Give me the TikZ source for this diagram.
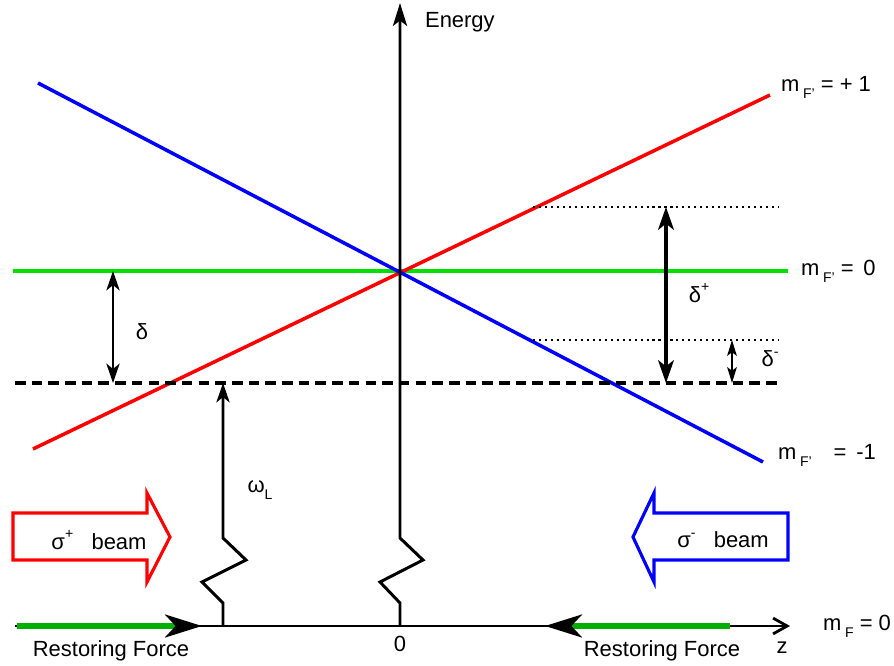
\documentclass[tikz,border=0pt]{standalone}
\usepackage{fontspec}
\setmainfont{Liberation Sans}
\usetikzlibrary{positioning, arrows.meta, calc}
\definecolor{lvlgreen}{RGB}{0,225,0}
\definecolor{forcegreen}{RGB}{0,175,0}
\newcommand{\lowtxt}[1]{\raisebox{-0.6ex}{\fontsize{8}{8}\selectfont #1}}
\newcommand{\hightxt}[1]{\raisebox{0.9ex}{\fontsize{8}{8}\selectfont #1}}

\begin{document}
\begin{tikzpicture}[
    x=0.02cm, y=-0.02cm,
    every node/.style={inner sep=1pt, font=\fontsize{12.5}{15}\selectfont},
    lvlline/.style={line width=2pt},
    axisline/.style={line width=1.7pt, line join=miter},
    bigtip/.style={line width=1.8pt, {Stealth[length=13pt,width=9pt,inset=3.5pt]}-{Stealth[length=13pt,width=9pt,inset=3.5pt]}},
    midtip/.style={line width=1.5pt, {Stealth[length=11pt,width=7.5pt,inset=3pt]}-{Stealth[length=11pt,width=7.5pt,inset=3pt]}},
    smalltip/.style={line width=1.1pt, {Stealth[length=9pt,width=5.5pt,inset=2pt]}-{Stealth[length=9pt,width=5.5pt,inset=2pt]}},
    forcetip/.style={forcegreen, line width=3pt, -{Stealth[length=21pt,width=13pt,inset=6pt,color=black]}},
    beam/.style={line width=1.8pt, line join=miter}
]
    \useasboundingbox (0,0) rectangle (894,666);

    % Coordinates
    \coordinate (rs) at (33,449);
    \coordinate (re) at (770,95);
    \coordinate (bs) at (38,83);
    \coordinate (be) at (763,462);
    \coordinate (gs) at (13,271);
    \coordinate (ge) at (788,271);
    \coordinate (ds) at (15,383);
    \coordinate (de) at (780,383);
    \coordinate (ups) at (533,207);
    \coordinate (upe) at (778,207);
    \coordinate (los) at (533,340);
    \coordinate (loe) at (778,340);
    \coordinate (eb) at (400,626);
    \coordinate (et) at (400,3);
    \coordinate (wb) at (223,626);
    \coordinate (wt) at (223,383);
    \coordinate (zl) at (15,626);
    \coordinate (zr) at (790,626);
    \coordinate (fls) at (17,626);
    \coordinate (fle) at (202,626);
    \coordinate (frs) at (730,626);
    \coordinate (fre) at (545,626);
    \coordinate (dpt) at (666,207);
    \coordinate (dpb) at (666,383);
    \coordinate (dmt) at (732,340);
    \coordinate (dmb) at (732,383);
    \coordinate (dt) at (113,271);
    \coordinate (db) at (113,383);

    % Levels
    \draw[lvlline, lvlgreen] (gs) -- (ge);
    \draw[lvlline, red] (rs) -- (re);
    \draw[lvlline, blue] (bs) -- (be);
    \draw[line width=1.8pt, dash pattern=on 6pt off 3.5pt] (ds) -- (de);
    \draw[line width=1.2pt, dash pattern=on 1.2pt off 2.2pt] (ups) -- (upe);
    \draw[line width=1.2pt, dash pattern=on 1.2pt off 2.2pt] (los) -- (loe);

    % Axes
    \draw[axisline, -{Stealth[length=13pt,width=8pt,inset=3pt]}]
        (eb) -- ++(0,-23) -- ++(-20,-21) -- ++(43,-22) -- ++(-23,-22) -- (et);
    \draw[axisline, -{Stealth[length=11pt,width=7.5pt,inset=3pt]}]
        (wb) -- ++(0,-23) -- ++(-21,-21) -- ++(44,-22) -- ++(-23,-22) -- (wt);
    \draw[line width=1.6pt, -{Straight Barb[length=8pt,width=9pt]}] (zl) -- (zr);

    % Detunings
    \draw[midtip] (dt) -- (db);
    \draw[bigtip] (dpt) -- (dpb);
    \draw[smalltip] (dmt) -- (dmb);

    % Restoring forces
    \draw[forcetip] (fls) -- (fle);
    \draw[forcetip] (frs) -- (fre);

    % Beams
    \draw[beam, red] (13,513) -- (147,513) -- (147,493) -- (170,537)
        -- (147,582) -- (147,560) -- (13,560) -- cycle;
    \draw[beam, blue] (788,513) -- (654,513) -- (654,493) -- (633,537)
        -- (654,582) -- (654,560) -- (788,560) -- cycle;

    % Labels
    \node (energy) [anchor=west] at (423,22) {Energy};
    \node (mplus) [anchor=west] at (779,87) {m\,\lowtxt{F'} = + 1};
    \node (mzero) [anchor=west] at (799,271) {m\,\lowtxt{F'} =\, 0};
    \node (mminus) [anchor=west] at (776,455) {m\,\lowtxt{F'}\quad =\, -1};
    \node (mf) [anchor=west] at (821,626) {m\,\lowtxt{F} = 0};
    \node (zlbl) at (782,648) {z};
    \node (zero) at (400,644) {0};
    \node (delta) at (142,332) {δ};
    \node (dplus) at (699,293) {δ\hightxt{+}};
    \node (dminus) at (770,359) {δ\hightxt{-}};
    \node (omega) at (260,490) {ω\lowtxt{L}};
    \node (splus) at (99,540) {σ\hightxt{+}\ \ \ beam};
    \node (sminus) at (723,540) {σ\hightxt{-}\ \ \ beam};
    \node (rfl) at (111,651) {Restoring Force};
    \node (rfr) at (662,651) {Restoring Force};
\end{tikzpicture}
\end{document}
